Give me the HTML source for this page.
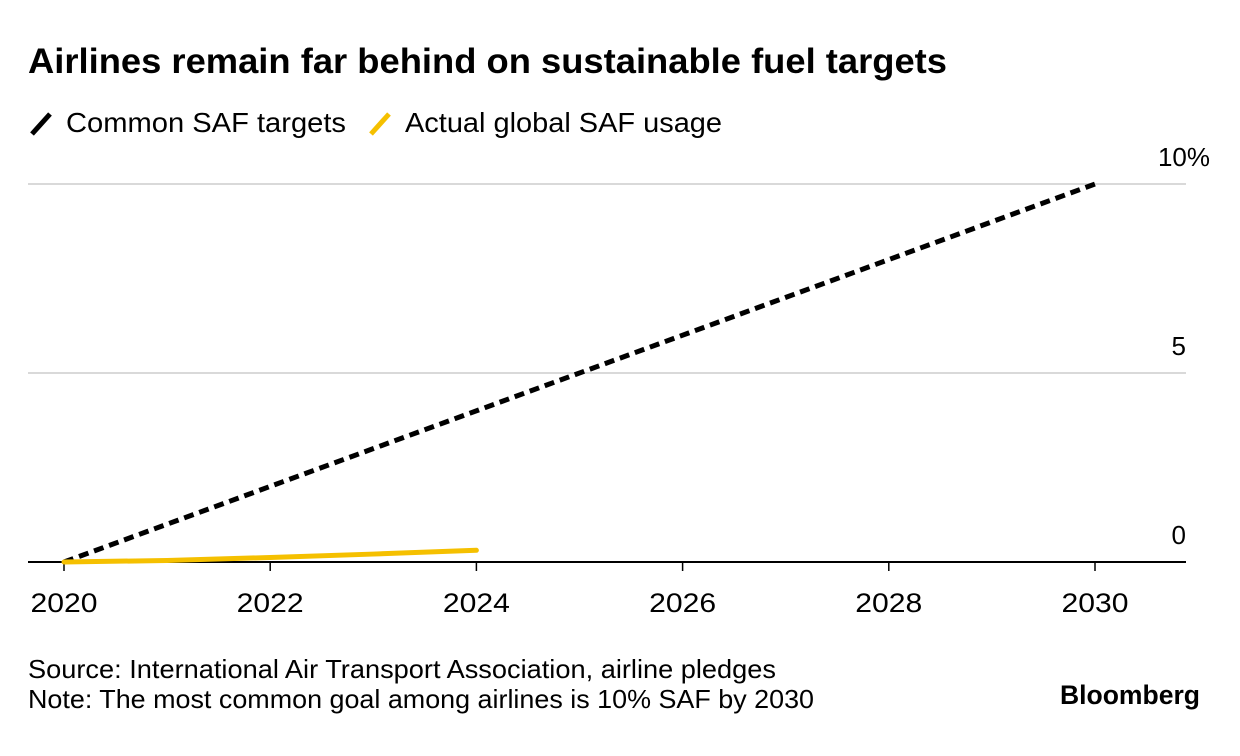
<!DOCTYPE html>
<html><head><meta charset="utf-8"><style>
body{margin:0;background:#fff;font-family:"Liberation Sans",Arial,sans-serif;}
#wrap{position:relative;width:1240px;height:756px;overflow:hidden;}
</style></head><body>
<div id="wrap">
<svg width="1240" height="756" style="position:absolute;left:0;top:0" id="svg" font-family="Liberation Sans, Arial, sans-serif">
<text x="28" y="73" font-size="35" font-weight="bold" textLength="919" lengthAdjust="spacingAndGlyphs">Airlines remain far behind on sustainable fuel targets</text>
<g>
<line x1="32" y1="134" x2="50" y2="114" stroke="#000" stroke-width="5"/>
<text x="66" y="132" font-size="28" textLength="280" lengthAdjust="spacingAndGlyphs">Common SAF targets</text>
<line x1="371" y1="134" x2="389" y2="114" stroke="#f5c000" stroke-width="5"/>
<text x="405" y="132" font-size="28" textLength="317" lengthAdjust="spacingAndGlyphs">Actual global SAF usage</text>
</g>
<g id="grid"></g><g id="xaxis"></g><g id="series"></g>
<text x="28" y="678" font-size="26" textLength="748" lengthAdjust="spacingAndGlyphs">Source: International Air Transport Association, airline pledges</text>
<text x="28" y="708" font-size="26" textLength="786" lengthAdjust="spacingAndGlyphs">Note: The most common goal among airlines is 10% SAF by 2030</text>
<text x="1060" y="704" font-size="27" font-weight="bold" textLength="140" lengthAdjust="spacingAndGlyphs">Bloomberg</text>
</svg>
</div>
<script>
const years=[2020,2021,2022,2023,2024,2025,2026,2027,2028,2029,2030];
const targetYears=[2020,2030];
const targetValues=[0,10];
const usageYears=[2020,2021,2022,2023,2024];
const usageValues=[0,0.04,0.12,0.21,0.31];
const yTicks=[0,5,10];
const yTickLabels=["0","5","10%"];
const xTicks=[2020,2022,2024,2026,2028,2030];
const NS="http://www.w3.org/2000/svg";
const x=v=>64+(v-2020)*103.1;
const y=v=>562-v*37.8;
function mk(tag,attrs,parent){const e=document.createElementNS(NS,tag);for(const k in attrs)e.setAttribute(k,attrs[k]);parent.appendChild(e);return e;}
const grid=document.getElementById('grid'),xa=document.getElementById('xaxis'),se=document.getElementById('series');
yTicks.forEach((t,i)=>{
 if(t!==0){const l=mk('line',{x1:28,x2:1186,y1:y(t),y2:y(t),stroke:'#d9d9d9','stroke-width':2},grid);
 
 }
 const tx=mk('text',{x:t===10?1210:1186,y:y(t)-18,'font-size':26,'text-anchor':'end'},grid);
 tx.textContent=yTickLabels[i];
 
 
});
const ax=mk('line',{x1:28,x2:1186,y1:562,y2:562,stroke:'#000','stroke-width':2},xa);


xTicks.forEach(t=>{
 const tk=mk('line',{x1:x(t),x2:x(t),y1:562,y2:571,stroke:'#000','stroke-width':1.5},xa);
 
 
 const tx=mk('text',{x:x(t),y:612,'font-size':27,'text-anchor':'middle',textLength:67,lengthAdjust:'spacingAndGlyphs'},xa);
 tx.textContent=t;
 
 
});
const tp=mk('polyline',{points:targetYears.map((d,i)=>x(d)+','+y(targetValues[i])).join(' '),fill:'none',stroke:'#000','stroke-width':5,'stroke-dasharray':'10 6'},se);


const up=mk('polyline',{points:usageYears.map((d,i)=>x(d)+','+y(usageValues[i])).join(' '),fill:'none',stroke:'#f5c000','stroke-width':5,'stroke-linecap':'round'},se);


</script>
</body></html>
